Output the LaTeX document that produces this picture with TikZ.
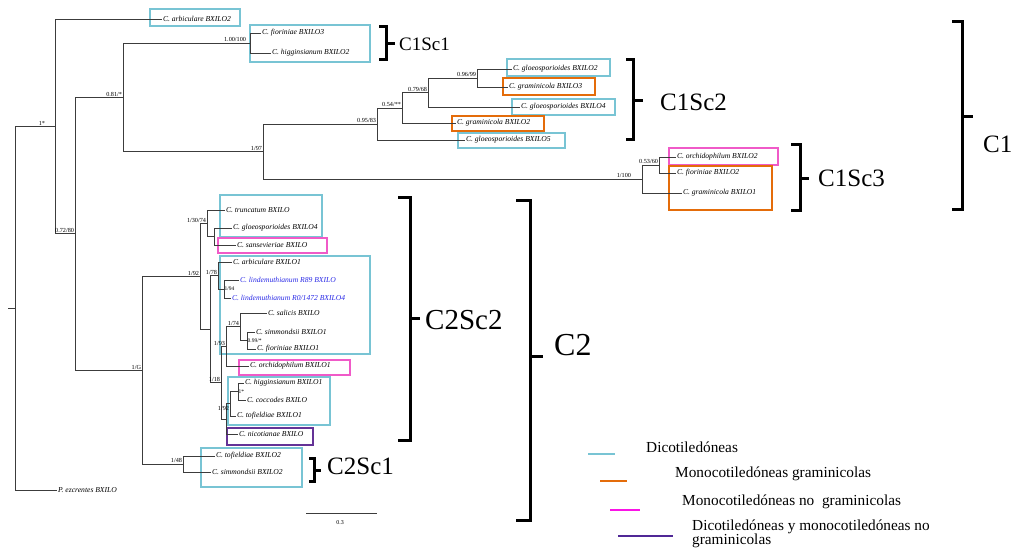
\documentclass[tikz,border=0pt]{standalone}
\usepackage{fontspec}
\setmainfont{Liberation Serif}
\definecolor{cyanb}{RGB}{120,196,212}
\definecolor{orangeb}{RGB}{228,108,10}
\definecolor{pinkb}{RGB}{240,90,200}
\definecolor{purpleb}{RGB}{100,50,150}
\definecolor{legpink}{RGB}{250,20,230}
\definecolor{legpurple}{RGB}{80,40,150}
\definecolor{bluet}{RGB}{40,40,230}
\definecolor{treeg}{RGB}{60,60,60}
\begin{document}
\begin{tikzpicture}[x=1pt,y=-1pt,
  tree/.style={draw=treeg,line width=0.7pt},
  leaf/.style={anchor=west,inner sep=0.8pt,font=\fontsize{7.6}{9}\selectfont\itshape},
  supp/.style={anchor=south east,inner sep=0.8pt,font=\fontsize{6.2}{7}\selectfont},
  suppr/.style={anchor=west,inner sep=0.5pt,font=\fontsize{5.5}{6}\selectfont},
  brk/.style={line width=3pt,line cap=butt},
  grp/.style={anchor=west,inner sep=0pt},
  boxc/.style={draw=cyanb,line width=2pt},
  boxo/.style={draw=orangeb,line width=2.5pt},
  boxp/.style={draw=pinkb,line width=2pt},
  boxu/.style={draw=purpleb,line width=2.5pt},
  legtext/.style={anchor=west,inner sep=0pt,font=\fontsize{15.3}{14}\selectfont,align=left}]

\useasboundingbox (0,0) rectangle (1020,551);

% ---------- boxes ----------
\draw[boxc] (150,9) rectangle (240,26);
\draw[boxc] (250,25) rectangle (370,62);
\draw[boxc] (507,59) rectangle (610,76);
\draw[boxo] (503,78) rectangle (595,95);
\draw[boxc] (512,99) rectangle (615,115);
\draw[boxo] (452,116) rectangle (544,131);
\draw[boxc] (458,133) rectangle (565,148);
\draw[boxp] (669,148) rectangle (778,165);
\draw[boxo] (669,166) rectangle (772,210);
\draw[boxc] (220,195) rectangle (322,237);
\draw[boxp] (218,238) rectangle (327,253);
\draw[boxc] (220,256) rectangle (370,354);
\draw[boxp] (239,360) rectangle (350,375);
\draw[boxc] (228,377) rectangle (330,425);
\draw[boxu] (227,428) rectangle (313,445);
\draw[boxc] (201,448) rectangle (302,487);

% ---------- internal nodes ----------
\coordinate (rt) at (8,308);
\coordinate (root) at (15,308);
\coordinate (n1) at (55,126.4);
\coordinate (n72) at (75,233.8);
\coordinate (n81) at (123,97.5);
\coordinate (nsc1) at (250,43);
\coordinate (n97) at (263,151.5);
\coordinate (n9583) at (377,124);
\coordinate (n54) at (402,108);
\coordinate (n7968) at (428,92.5);
\coordinate (n9699) at (477,78);
\coordinate (n100) at (642,179);
\coordinate (n5360) at (659,165);
\coordinate (n1g) at (142,370.1);
\coordinate (n48) at (183,464);
\coordinate (n92) at (200,276.2);
\coordinate (n3074) at (207,223.2);
\coordinate (ngs) at (214,236.5);
\coordinate (nb) at (210,329.1);
\coordinate (n78) at (218,275.5);
\coordinate (n94) at (224,289);
\coordinate (n18) at (221,382.7);
\coordinate (n93) at (226,346.5);
\coordinate (n74) at (240,326.8);
\coordinate (n99) at (247,340.5);
\coordinate (nnic) at (226,418.9);
\coordinate (n92b) at (230,403.8);
\coordinate (n1s) at (238,391.5);

% ---------- leaves ----------
\node[leaf] (arb2) at (162,19) {C. arbiculare BXILO2};
\node[leaf] (fio3) at (261,33) {C. fioriniae BXILO3};
\node[leaf] (hig2) at (271,53) {C. higginsianum BXILO2};
\node[leaf] (glo2) at (512,69) {C. gloeosporioides BXILO2};
\node[leaf] (gra3) at (508,87) {C. graminicola BXILO3};
\node[leaf] (glo4a) at (520,107) {C. gloeosporioides BXILO4};
\node[leaf] (gra2) at (456,123) {C. graminicola BXILO2};
\node[leaf] (glo5) at (465,140) {C. gloeosporioides BXILO5};
\node[leaf] (orc2) at (676,157) {C. orchidophilum BXILO2};
\node[leaf] (fio2) at (676,173) {C. fioriniae BXILO2};
\node[leaf] (gra1) at (682,193) {C. graminicola BXILO1};
\node[leaf] (tru) at (225,210) {C. truncatum BXILO};
\node[leaf] (glo4b) at (232,228) {C. gloeosporioides BXILO4};
\node[leaf] (san) at (236,245) {C. sansevieriae BXILO};
\node[leaf] (arb1) at (232,262) {C. arbiculare BXILO1};
\node[leaf,text=bluet] (linr) at (239,280) {C. lindemuthianum R89 BXILO};
\node[leaf,text=bluet] (lin0) at (231,298) {C. lindemuthianum R0/1472 BXILO4};
\node[leaf] (sal) at (267,313) {C. salicis BXILO};
\node[leaf] (sim1) at (255,332) {C. simmondsii BXILO1};
\node[leaf] (fio1) at (256,349) {C. fioriniae BXILO1};
\node[leaf] (orc1) at (249,366) {C. orchidophilum BXILO1};
\node[leaf] (hig1) at (244,383) {C. higginsianum BXILO1};
\node[leaf] (coc) at (246,400) {C. coccodes BXILO};
\node[leaf] (tof1) at (236,416) {C. tofieldiae BXILO1};
\node[leaf] (nic) at (238,434) {C. nicotianae BXILO};
\node[leaf] (tof2) at (215,456) {C. tofieldiae BXILO2};
\node[leaf] (sim2) at (211,472) {C. simmondsii BXILO2};
\node[leaf] (pez) at (57,490) {P. ezcrentes BXILO};

% ---------- branches ----------
\draw[tree] (rt) -- (root);
\draw[tree] (root) |- (n1);   \draw[tree] (root) |- (pez.west);
\draw[tree] (n1) |- (arb2.west); \draw[tree] (n1) |- (n72);
\draw[tree] (n72) |- (n81);  \draw[tree] (n72) |- (n1g);
\draw[tree] (n81) |- (nsc1); \draw[tree] (n81) |- (n97);
\draw[tree] (nsc1) |- (fio3.west); \draw[tree] (nsc1) |- (hig2.west);
\draw[tree] (n97) |- (n9583); \draw[tree] (n97) |- (n100);
\draw[tree] (n9583) |- (n54); \draw[tree] (n9583) |- (glo5.west);
\draw[tree] (n54) |- (n7968); \draw[tree] (n54) |- (gra2.west);
\draw[tree] (n7968) |- (n9699); \draw[tree] (n7968) |- (glo4a.west);
\draw[tree] (n9699) |- (glo2.west); \draw[tree] (n9699) |- (gra3.west);
\draw[tree] (n100) |- (n5360); \draw[tree] (n100) |- (gra1.west);
\draw[tree] (n5360) |- (orc2.west); \draw[tree] (n5360) |- (fio2.west);
\draw[tree] (n1g) |- (n92); \draw[tree] (n1g) |- (n48);
\draw[tree] (n48) |- (tof2.west); \draw[tree] (n48) |- (sim2.west);
\draw[tree] (n92) |- (n3074); \draw[tree] (n92) |- (nb);
\draw[tree] (n3074) |- (tru.west); \draw[tree] (n3074) |- (ngs);
\draw[tree] (ngs) |- (glo4b.west); \draw[tree] (ngs) |- (san.west);
\draw[tree] (nb) |- (n78); \draw[tree] (nb) |- (n18);
\draw[tree] (n78) |- (arb1.west); \draw[tree] (n78) |- (n94);
\draw[tree] (n94) |- (linr.west); \draw[tree] (n94) |- (lin0.west);
\draw[tree] (n18) |- (n93); \draw[tree] (n18) |- (nnic);
\draw[tree] (n93) |- (n74); \draw[tree] (n93) |- (orc1.west);
\draw[tree] (n74) |- (sal.west); \draw[tree] (n74) |- (n99);
\draw[tree] (n99) |- (sim1.west); \draw[tree] (n99) |- (fio1.west);
\draw[tree] (nnic) |- (n92b); \draw[tree] (nnic) |- (nic.west);
\draw[tree] (n92b) |- (n1s); \draw[tree] (n92b) |- (tof1.west);
\draw[tree] (n1s) |- (hig1.west); \draw[tree] (n1s) |- (coc.west);

% ---------- support values ----------
\node[supp,xshift=-9pt] (s1) at (n1) {1*};
\node[supp] (s72) at (n72) {0.72/80};
\node[supp] (s81) at (n81) {0.81/*};
\node[supp,xshift=-3pt] (ssc1) at (nsc1) {1.00/100};
\node[supp] (s97) at (n97) {1/97};
\node[supp] (s9583) at (n9583) {0.95/83};
\node[supp] (s54) at (n54) {0.54/**};
\node[supp] (s7968) at (n7968) {0.79/68};
\node[supp] (s9699) at (n9699) {0.96/99};
\node[supp,xshift=-10pt] (s100) at (n100) {1/100};
\node[supp] (s5360) at (n5360) {0.53/60};
\node[supp] (s1g) at (n1g) {1/G};
\node[supp] (s48) at (n48) {1/48};
\node[supp] (s92) at (n92) {1/92};
\node[supp] (s3074) at (n3074) {1/30/74};
\node[supp] (s78) at (n78) {1/78};
\node[suppr] (s94) at (n94) {1/94};
\node[supp] (s74) at (n74) {1/74};
\node[suppr] (s99) at (n99) {0.99/*};
\node[supp] (s93) at (n93) {1/93};
\node[supp] (s18) at (n18) {1/18};
\node[supp,yshift=-8pt] (s92b) at (n92b) {1/92};
\node[suppr] (s1s) at (n1s) {1*};

% ---------- brackets ----------
\draw[brk] (379,27) -| (386,60) -- (379,60);  \draw[brk] (386,44) -- (395,44);
\draw[brk] (626,60) -| (633,139) -- (626,139); \draw[brk] (633,100) -- (643,100);
\draw[brk] (791,144) -| (800,210) -- (791,210); \draw[brk] (800,178) -- (809,178);
\draw[brk] (952,22) -| (962,209) -- (952,209); \draw[brk] (962,116) -- (973,116);
\draw[brk] (398,197) -| (410,440) -- (398,440); \draw[brk] (410,318) -- (420,318);
\draw[brk] (516,200) -| (530,520) -- (516,520); \draw[brk] (530,356) -- (543,356);
\draw[brk] (309,458) -| (314,481) -- (309,481); \draw[brk] (314,470) -- (321,470);

\node[grp,font=\fontsize{19}{20}\selectfont] (lc1s1) at (399,44) {C1Sc1};
\node[grp,font=\fontsize{25}{26}\selectfont] (lc1s2) at (660,102) {C1Sc2};
\node[grp,font=\fontsize{25}{26}\selectfont] (lc1s3) at (818,178) {C1Sc3};
\node[grp,font=\fontsize{25}{26}\selectfont] (lc1) at (983,144) {C1};
\node[grp,font=\fontsize{29}{30}\selectfont] (lc2s2) at (425,320) {C2Sc2};
\node[grp,font=\fontsize{32}{33}\selectfont] (lc2) at (554,345) {C2};
\node[grp,font=\fontsize{25}{26}\selectfont] (lc2s1) at (327,466) {C2Sc1};

% ---------- legend ----------
\coordinate (la1) at (588,454); \coordinate (lb1) at (615,454);
\coordinate (la2) at (600,481); \coordinate (lb2) at (627,481);
\coordinate (la3) at (610,510); \coordinate (lb3) at (640,510);
\coordinate (la4) at (618,536); \coordinate (lb4) at (673,536);
\draw[draw=cyanb,line width=2.5pt] (la1) -- (lb1);
\draw[draw=orangeb,line width=2.5pt] (la2) -- (lb2);
\draw[draw=legpink,line width=2.5pt] (la3) -- (lb3);
\draw[draw=legpurple,line width=2.5pt] (la4) -- (lb4);
\node[legtext] (lt1) at (646,447) {Dicotiledóneas};
\node[legtext] (lt2) at (675,474) {Monocotiledóneas graminicolas};
\node[legtext] (lt3) at (682,502) {Monocotiledóneas no\ \ graminicolas};
\node[legtext] (lt4) at (692,534) {Dicotiledóneas y monocotiledóneas no\\graminicolas};

% ---------- scale bar ----------
\coordinate (sb1) at (306,513); \coordinate (sb2) at (377,513);
\draw[tree] (sb1) -- (sb2);
\node[font=\fontsize{6}{7}\selectfont,inner sep=0pt] (sbl) at (340,523) {0.3};
\end{tikzpicture}
\end{document}
